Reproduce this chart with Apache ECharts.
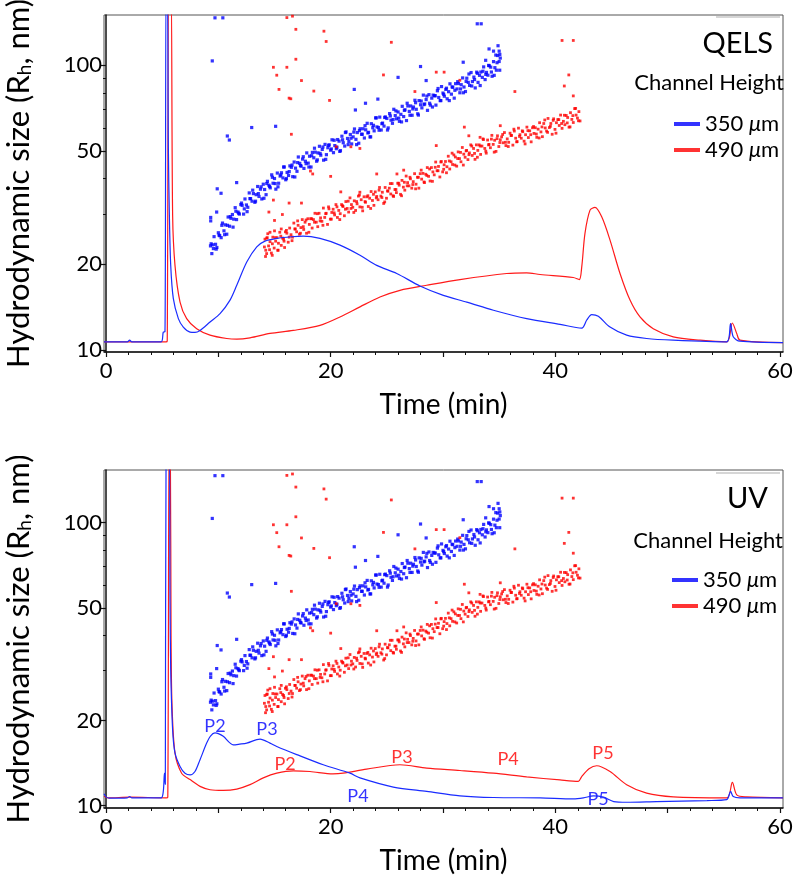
<!DOCTYPE html>
<html>
<head>
<meta charset="utf-8">
<script src="https://cdn.jsdelivr.net/npm/echarts@6/dist/echarts.min.js"></script>
<style>
html,body{margin:0;padding:0;background:#fff;}
#chart{width:800px;height:883px;}
</style>
</head>
<body>
<div id="chart"></div>
<script>
// ---------- DATA ----------
// Hydrodynamic size (nm) vs time (min), 350 um channel (blue)
const blueBand = [[9.3,23.2],[9.42,21.8],[9.5,23.4],[9.62,25.0],[9.75,23.5],[9.87,22.9],[10.0,25.8],[10.12,25.2],[10.25,24.8],[10.37,27.9],[10.5,26.2],[10.62,27.5],[10.75,25.5],[10.87,29.3],[11.0,27.2],[11.12,29.0],[11.25,29.9],[11.37,28.8],[11.5,31.6],[11.62,28.7],[11.75,30.5],[11.87,30.0],[12.0,32.4],[12.12,32.2],[12.25,30.0],[12.37,33.9],[12.5,32.3],[12.62,31.7],[12.75,35.6],[12.87,34.0],[13.0,33.3],[13.12,35.4],[13.25,33.0],[13.37,35.1],[13.5,37.5],[13.62,34.6],[13.75,36.7],[13.87,33.9],[14.0,38.2],[14.12,36.6],[14.25,35.1],[14.37,39.1],[14.5,37.9],[14.62,37.1],[14.75,41.2],[14.87,38.5],[15.0,40.0],[15.12,36.7],[15.25,41.8],[15.37,38.5],[15.5,40.8],[15.62,41.9],[15.75,40.2],[15.87,43.9],[16.0,39.6],[16.12,42.0],[16.25,41.0],[16.37,44.3],[16.5,43.8],[16.62,40.6],[16.75,45.7],[16.87,43.5],[17.0,42.4],[17.12,47.6],[17.25,45.2],[17.37,44.2],[17.5,46.8],[17.62,43.4],[17.75,46.0],[17.87,49.2],[18.0,45.3],[18.12,47.9],[18.25,43.9],[18.37,49.4],[18.5,47.3],[18.62,49.5],[18.75,46.0],[18.87,49.2],[19.0,51.9],[19.12,48.3],[19.25,50.6],[19.37,46.4],[19.5,52.7],[19.62,48.5],[19.75,51.3],[19.87,52.5],[20.0,50.3],[20.12,54.7],[20.25,49.3],[20.37,52.2],[20.5,50.9],[20.62,54.8],[20.75,54.1],[20.87,50.1],[21.0,56.3],[21.12,53.4],[21.25,52.0],[21.37,58.3],[21.5,55.3],[21.62,54.0],[21.75,57.1],[21.87,52.9],[22.0,56.0],[22.12,59.7],[22.25,54.9],[22.37,58.0],[22.5,53.2],[22.62,59.8],[22.75,57.2],[22.87,59.8],[23.0,55.5],[23.12,59.3],[23.25,62.5],[23.37,58.1],[23.5,56.0],[23.62,62.3],[23.75,60.3],[23.87,58.8],[24.0,65.3],[24.12,60.7],[24.25,60.4],[24.37,65.7],[24.5,59.2],[24.62,62.6],[24.75,61.1],[24.87,65.8],[25.0,65.0],[25.12,60.2],[25.25,67.6],[25.37,64.1],[25.5,62.5],[25.62,70.0],[25.75,66.5],[25.87,64.8],[26.0,68.5],[26.12,63.5],[26.25,67.2],[26.37,71.7],[26.5,66.0],[26.62,69.7],[26.75,63.9],[26.87,71.9],[27.0,68.8],[27.12,71.9],[27.25,66.7],[27.37,71.3],[27.5,75.3],[27.62,70.0],[27.75,67.5],[27.87,75.1],[28.0,72.6],[28.12,70.8],[28.25,78.5],[28.37,73.1],[28.5,75.7],[28.62,69.4],[28.75,78.8],[28.87,72.4],[29.0,76.6],[29.12,78.5],[29.25,78.1],[29.37,72.4],[29.5,81.3],[29.62,77.0],[29.75,75.1],[29.87,84.1],[30.0,79.8],[30.12,77.8],[30.25,82.2],[30.37,76.2],[30.5,80.7],[30.62,86.0],[30.75,79.1],[30.87,83.6],[31.0,76.6],[31.12,86.1],[31.25,82.5],[31.37,86.2],[31.5,80.0],[31.62,85.4],[31.75,90.2],[31.87,83.8],[32.0,80.8],[32.12,90.0],[32.25,87.0],[32.37,84.9],[32.5,94.2],[32.62,87.6],[32.75,90.8],[32.87,83.2],[33.0,94.5],[33.12,87.0],[33.25,92.1],[33.37,94.6],[33.5,90.6],[33.62,98.6],[33.75,89.0],[33.87,94.3],[34.0,92.2],[34.12,99.5],[34.25,98.4],[34.37,91.4],[34.5,102.9],[34.62,98.0],[34.75,96.0],[34.87,108.1],[35.0,103.0],[35.1,105.9]];
const blueBand2 = [[9.36,23.6],[9.56,22.7],[9.81,22.6],[10.06,25.3],[10.31,27.4],[10.56,25.4],[10.81,27.4],[11.06,29.4],[11.31,27.0],[11.56,30.7],[11.81,30.2],[12.06,32.8],[12.31,31.3],[12.56,30.6],[12.81,34.0],[13.06,36.4],[13.31,33.3],[13.56,35.4],[13.81,37.4],[14.06,34.1],[14.31,38.4],[14.56,37.5],[14.81,40.4],[15.06,38.4],[15.31,37.4],[15.56,41.2],[15.81,43.9],[16.06,40.0],[16.31,42.3],[16.56,44.6],[16.81,40.5],[17.06,45.5],[17.31,44.4],[17.56,47.7],[17.81,45.1],[18.06,43.9],[18.31,48.1],[18.56,51.1],[18.81,46.5],[19.06,49.0],[19.31,51.6],[19.56,46.7],[19.81,52.3],[20.06,50.8],[20.31,54.5],[20.56,51.5],[20.81,49.8],[21.06,54.7],[21.31,58.0],[21.56,52.6],[21.81,55.4],[22.06,58.2],[22.31,52.6],[22.56,58.9],[22.81,57.2],[23.06,61.3],[23.31,57.8],[23.56,56.0],[23.81,61.5],[24.06,65.3],[24.31,59.1],[24.56,62.3],[24.81,65.5],[25.06,59.2],[25.31,66.3],[25.56,64.4],[25.81,69.1],[26.06,65.2],[26.31,63.2],[26.56,69.4],[26.81,73.5],[27.06,66.7],[27.31,70.2],[27.56,73.8],[27.81,66.8],[28.06,74.8],[28.31,72.7],[28.56,77.9],[28.81,73.5],[29.06,71.3],[29.31,78.1],[29.56,82.8],[29.81,75.1],[30.06,79.0],[30.31,83.0],[30.56,75.1],[30.81,83.9],[31.06,81.6],[31.31,87.5],[31.56,82.5],[31.81,80.0],[32.06,87.7],[32.31,93.1],[32.56,84.5],[32.81,89.0],[33.06,93.6],[33.31,84.8],[33.56,95.2],[33.81,92.8],[34.06,99.8],[34.31,94.6],[34.56,92.1],[34.81,102.0],[35.06,109.1]];
const blueOutliers = [[9.7,146.6],[10.4,146.6],[9.46,103.5],[10.8,56.4],[10.98,54.6],[9.9,36.8],[10.24,35.5],[9.85,30.5],[9.32,29.2],[9.32,28.4],[11.63,38.7],[12.97,60.4],[15.1,61.0],[22.1,82.2],[22.2,69.6],[24.2,76.0],[23.1,73.5],[26.0,90.6],[33.05,139.7],[33.4,139.7],[28.0,98.9],[31.8,102.4],[28.5,88.3],[34.1,114.0],[34.5,112.0],[34.9,117.0],[35.0,112.0],[34.7,108.5],[33.8,104.0],[35.05,96.0]];
// 490 um channel (red)
const redBand = [[14.1,23.0],[14.22,22.4],[14.35,24.8],[14.47,23.2],[14.6,24.0],[14.72,21.9],[14.85,24.9],[14.97,22.8],[15.1,24.1],[15.22,24.8],[15.35,23.7],[15.47,25.9],[15.6,23.3],[15.72,24.7],[15.85,24.1],[15.97,26.0],[16.1,25.7],[16.22,23.9],[16.35,26.8],[16.47,25.4],[16.6,24.9],[16.72,27.9],[16.85,26.6],[16.97,26.0],[17.1,27.4],[17.22,25.5],[17.35,26.9],[17.47,28.7],[17.6,26.5],[17.72,28.1],[17.85,25.7],[17.97,28.9],[18.1,27.6],[18.22,28.9],[18.35,26.8],[18.47,28.7],[18.6,30.2],[18.72,28.1],[18.85,27.1],[18.97,30.2],[19.1,29.1],[19.22,28.3],[19.35,31.5],[19.47,29.2],[19.6,30.2],[19.72,27.6],[19.85,31.3],[19.97,28.8],[20.1,30.4],[20.22,31.2],[20.35,29.8],[20.47,32.4],[20.6,29.2],[20.72,30.9],[20.85,30.1],[20.97,32.4],[21.1,31.9],[21.22,29.6],[21.35,33.2],[21.47,31.4],[21.6,30.5],[21.72,34.2],[21.85,32.4],[21.97,31.7],[22.1,33.4],[22.22,30.9],[22.35,32.6],[22.47,34.7],[22.6,31.8],[22.72,33.7],[22.85,30.8],[22.97,34.5],[23.1,33.0],[23.22,34.5],[23.35,31.9],[23.47,34.1],[23.6,36.0],[23.72,33.5],[23.85,32.2],[23.97,35.9],[24.1,34.6],[24.22,33.7],[24.35,37.2],[24.47,34.7],[24.6,35.8],[24.72,32.7],[24.85,37.2],[24.97,34.1],[25.1,36.1],[25.22,37.0],[25.35,35.3],[25.47,38.4],[25.6,34.6],[25.72,36.6],[25.85,35.7],[25.97,38.5],[26.1,37.9],[26.22,35.2],[26.35,39.4],[26.47,37.3],[26.6,36.4],[26.72,40.8],[26.85,38.7],[26.97,37.7],[27.1,39.9],[27.22,37.0],[27.35,39.0],[27.47,41.6],[27.6,38.2],[27.72,40.4],[27.85,37.0],[27.97,41.6],[28.1,39.8],[28.22,41.7],[28.35,38.7],[28.47,41.4],[28.6,43.7],[28.72,40.7],[28.85,39.2],[28.97,43.7],[29.1,42.2],[29.22,41.2],[29.35,45.7],[29.47,42.6],[29.6,44.1],[29.72,40.5],[29.85,45.9],[29.97,42.2],[30.1,44.7],[30.22,45.9],[30.35,44.0],[30.47,47.9],[30.6,43.2],[30.72,45.8],[30.85,44.8],[30.97,48.4],[31.1,47.6],[31.22,44.2],[31.35,49.6],[31.47,47.0],[31.6,45.8],[31.72,51.4],[31.85,48.7],[31.97,47.5],[32.1,50.2],[32.22,46.6],[32.35,49.2],[32.47,52.5],[32.6,48.2],[32.72,51.0],[32.85,46.7],[32.97,52.5],[33.1,50.2],[33.22,52.5],[33.35,48.6],[33.47,52.0],[33.6,54.8],[33.72,51.0],[33.85,49.1],[33.97,54.6],[34.1,52.7],[34.22,51.3],[34.35,56.7],[34.47,52.7],[34.6,54.5],[34.72,49.8],[34.85,56.5],[34.97,51.8],[35.1,54.7],[35.22,56.0],[35.35,53.4],[35.47,58.0],[35.6,52.2],[35.72,55.1],[35.85,53.6],[35.97,57.7],[36.1,56.7],[36.22,52.4],[36.35,58.7],[36.47,55.4],[36.6,53.9],[36.72,60.1],[36.85,57.0],[36.97,55.4],[37.1,58.4],[37.22,54.1],[37.35,57.0],[37.47,60.6],[37.6,55.7],[37.72,58.8],[37.85,53.8],[37.97,60.3],[38.1,57.6],[38.22,60.3],[38.35,55.8],[38.47,59.6],[38.6,62.8],[38.72,58.3],[38.85,56.1],[38.97,62.4],[39.1,60.2],[39.22,58.7],[39.35,65.0],[39.47,60.4],[39.6,62.4],[39.72,57.2],[39.85,64.8],[39.97,59.5],[40.1,62.8],[40.22,64.4],[40.35,61.4],[40.47,66.8],[40.6,60.0],[40.72,63.5],[40.85,61.8],[40.97,66.6],[41.1,65.5],[41.22,60.6],[41.35,68.1],[41.47,64.5],[41.6,62.9],[41.72,70.4],[41.85,66.8],[41.97,65.2],[42.1,68.7],[42.2,63.7],[14.2,21.3],[14.4,25.6],[14.3,21.8],[14.6,25.9],[14.8,21.5],[15.0,26.2],[15.3,22.4],[14.15,24.5],[15.6,26.6],[15.9,22.9]];
const redBand2 = [[14.31,24.7],[14.56,22.5],[14.81,23.6],[15.06,24.8],[15.31,22.4],[15.56,25.1],[15.81,24.5],[16.06,26.3],[16.31,24.9],[16.56,24.2],[16.81,26.6],[17.06,28.4],[17.31,25.7],[17.56,27.1],[17.81,28.6],[18.06,25.9],[18.31,28.9],[18.56,28.1],[18.81,30.1],[19.06,28.4],[19.31,27.4],[19.56,30.1],[19.81,31.8],[20.06,28.8],[20.31,30.3],[20.56,31.8],[20.81,28.7],[21.06,32.1],[21.31,31.2],[21.56,33.3],[21.81,31.4],[22.06,30.4],[22.31,33.2],[22.56,35.0],[22.81,31.7],[23.06,33.2],[23.31,34.8],[23.56,31.4],[23.81,35.2],[24.06,34.2],[24.31,36.4],[24.56,34.3],[24.81,33.1],[25.06,36.2],[25.31,38.4],[25.56,34.8],[25.81,36.6],[26.06,38.5],[26.31,34.8],[26.56,38.8],[26.81,37.7],[27.06,40.4],[27.31,38.1],[27.56,36.8],[27.81,40.4],[28.06,42.8],[28.31,38.9],[28.56,41.0],[28.81,43.2],[29.06,39.1],[29.31,43.8],[29.56,42.6],[29.81,45.7],[30.06,43.1],[30.31,41.9],[30.56,46.1],[30.81,49.1],[31.06,44.6],[31.31,47.0],[31.56,49.4],[31.81,44.6],[32.06,50.0],[32.31,48.5],[32.56,52.0],[32.81,49.0],[33.06,47.5],[33.31,52.0],[33.56,55.1],[33.81,49.9],[34.06,52.5],[34.31,55.0],[34.56,49.5],[34.81,55.2],[35.06,53.5],[35.31,57.1],[35.56,53.6],[35.81,51.8],[36.06,56.6],[36.31,59.6],[36.56,53.8],[36.81,56.2],[37.06,58.8],[37.31,52.9],[37.56,58.9],[37.81,57.0],[38.06,60.9],[38.31,57.3],[38.56,55.5],[38.81,60.7],[39.06,64.2],[39.31,58.1],[39.56,61.0],[39.81,64.0],[40.06,57.7],[40.31,64.4],[40.56,62.4],[40.81,66.7],[41.06,62.7],[41.31,60.7],[41.56,66.5],[41.81,70.5],[42.06,63.8]];
const redOutliers = [[16.1,146.9],[16.6,148.6],[16.9,133.6],[19.4,131.6],[19.6,121.1],[16.9,104.9],[14.9,98.3],[16.1,98.3],[15.2,92.2],[17.4,88.3],[15.4,82.2],[18.5,81.1],[16.3,76.6],[16.45,76.2],[19.9,75.2],[24.7,92.4],[25.4,120.3],[16.5,57.2],[20.5,51.7],[21.8,51.7],[22.6,51.0],[18.2,42.5],[18.4,41.5],[20.0,40.7],[20.9,35.9],[22.6,35.8],[24.1,41.5],[25.9,41.5],[14.9,33.6],[16.3,32.8],[17.4,32.8],[15.7,29.9],[14.5,30.5],[15.0,28.5],[30.1,94.5],[29.4,94.5],[27.5,80.8],[31.5,88.5],[36.4,80.8],[40.6,122.1],[41.6,122.1],[41.2,92.4],[40.8,84.5],[41.6,78.0],[31.9,60.6],[32.3,56.5],[35.1,61.3],[33.3,55.8],[29.4,52.2],[26.5,42.8]];

// Detector traces (% of panel height, arbitrary signal units)
const qelsBlue = [[-0.18,3.0],[1.9,3.0],[2.1,3.5],[2.3,3.0],[4.9,3.0],[5.1,5.9],[5.25,6.0],[5.35,110],[5.45,110],[5.55,60.4],[5.64,40.6],[5.76,25.7],[5.99,15.9],[6.44,9.9],[6.88,7.4],[7.48,5.9],[7.92,5.8],[8.37,6.4],[9.26,8.9],[10.15,11.4],[11.04,15.4],[11.64,19.8],[12.53,26.7],[13.42,31.2],[14.15,32.9],[15.2,33.7],[16.5,34.2],[17.56,34.4],[19.05,33.7],[20.83,31.7],[22.61,28.7],[24.1,25.7],[25.88,23.3],[27.95,19.6],[30.03,16.8],[32.12,14.8],[34.49,12.4],[37.45,9.9],[40.42,8.2],[42.35,7.1],[42.8,9.5],[43.24,11.1],[43.83,10.6],[44.87,7.4],[46.35,5.0],[48.13,4.0],[50.5,3.5],[55.26,3.0],[55.6,8.4],[55.84,4.5],[56.44,3.2],[60.27,2.8]];
const qelsRed = [[-0.18,3.0],[5.35,3.0],[5.45,3.3],[5.6,110],[5.78,110],[5.93,40.6],[6.14,25.7],[6.59,14.8],[7.18,9.9],[8.07,6.9],[9.26,5.0],[10.75,4.0],[11.64,3.8],[12.82,4.2],[14.6,5.5],[16.67,6.4],[19.05,7.9],[20.83,10.4],[22.61,13.4],[24.39,16.3],[26.17,18.3],[28.55,19.8],[31.51,21.5],[35.67,23.3],[37.45,23.5],[38.64,23.0],[41.6,22.1],[42.13,21.5],[42.35,25.2],[42.64,35.2],[43.09,42.1],[43.53,42.9],[44.13,40.1],[44.87,33.2],[45.76,23.3],[46.65,15.4],[47.54,10.4],[48.72,6.9],[50.5,4.5],[52.9,3.5],[55.26,3.0],[55.76,8.6],[56.15,5.5],[56.44,3.5],[60.27,2.8]];
const uvBlue = [[-0.18,4.2],[0.0,3.3],[0.3,2.9],[1.9,3.0],[2.1,3.4],[2.3,3.0],[4.9,3.0],[5.1,5.0],[5.2,10.3],[5.28,7.0],[5.35,110],[5.6,110],[5.7,60.6],[5.76,40.9],[5.93,23.1],[6.14,16.3],[6.59,12.3],[7.03,10.3],[7.48,9.8],[7.92,10.8],[8.37,14.3],[8.96,19.2],[9.3,21.3],[9.7,22.2],[10.0,22.0],[10.44,21.2],[11.33,18.7],[11.9,18.9],[12.53,19.2],[13.71,20.4],[14.6,19.2],[15.2,18.2],[16.98,15.8],[19.34,12.8],[21.72,10.3],[22.61,8.9],[25.58,6.2],[28.55,4.9],[31.51,3.6],[34.49,3.1],[38.64,3.0],[41.6,2.7],[42.5,3.0],[43.4,3.6],[44.3,3.2],[45.2,1.9],[46.35,1.7],[49.0,1.9],[53.5,2.2],[55.26,2.5],[55.6,4.9],[55.84,3.4],[56.44,3.0],[60.27,3.0]];
const uvRed = [[-0.18,3.5],[0.2,3.0],[2.1,3.2],[5.35,3.0],[5.5,3.2],[5.62,110],[5.72,110],[5.79,50.7],[5.87,31.0],[6.14,16.3],[6.73,10.3],[7.48,8.4],[8.37,6.4],[9.26,5.4],[10.44,5.2],[11.64,5.6],[12.82,6.9],[14.0,8.9],[15.2,10.3],[16.67,11.0],[18.16,10.8],[20.2,10.1],[21.1,10.3],[23.2,11.5],[26.17,12.8],[28.55,11.8],[31.51,11.1],[34.49,10.3],[37.45,9.2],[40.42,8.3],[42.05,7.9],[42.35,9.3],[43.0,11.6],[43.68,12.5],[44.87,10.8],[46.35,6.9],[48.13,4.4],[50.5,3.3],[55.26,3.0],[55.76,7.6],[56.15,3.9],[57.0,3.3],[60.27,3.0]];
// Peak annotations (UV panel): [time, signal, text]
const peaksBlue = [[9.7,24.3,'P2'],[14.33,23.4,'P3'],[22.43,3.6,'P4'],[43.8,2.5,'P5']];
const peaksRed = [[15.94,13.1,'P2'],[26.35,14.9,'P3'],[35.79,14.3,'P4'],[44.24,16.3,'P5']];

// Axis ticks
const xLabels = [0, 20, 40, 60];
const xMajorTicks = [0, 10, 20, 30, 40, 50, 60];
const xMinorTicks = [2,4,6,8,12,14,16,18,22,24,26,28,32,34,36,38,42,44,46,48,52,54,56,58];
const yLabels = [10, 20, 50, 100];
const yMinorTicks = [30, 40, 60, 70, 80, 90];
const seriesNames = ['350 \u03bcm', '490 \u03bcm'];
const panelTitles = ['QELS', 'UV'];

// ---------- STYLE ----------
const BLUE = '#0000ff', RED = '#ff0000';
const LBLUE = '#1a2cff', LRED = '#ff1a1a';
const FONT = 'Lato';
const chart = echarts.init(document.getElementById('chart'), null, {renderer: 'canvas'});

const grids = [
  {left: 104, top: 15, width: 679, height: 337},
  {left: 104, top: 470, width: 679, height: 338}
].map(g => Object.assign(g, {show: true, borderColor: '#555', borderWidth: 1, backgroundColor: 'transparent',
  containLabel: false, outerBoundsMode: 'none'}));

const xMin = -0.18, xMax = 60.27;
const yRanges = [[9.84, 150], [9.81, 153.5]];

const xAxis = [], yAxis = [];
[0, 1].forEach(gi => {
  xAxis.push({
    type: 'value', gridIndex: gi, min: xMin, max: xMax, position: 'bottom',
    name: 'Time (min)', nameLocation: 'middle', nameGap: 39,
    nameTextStyle: {fontFamily: FONT, fontSize: 28, color: '#000'},
    axisLine: {show: true, onZero: false, lineStyle: {color: '#111', width: 1.5}},
    axisTick: {show: true, length: 5, customValues: xMajorTicks, lineStyle: {color: '#111', width: 1.2}},
    axisLabel: {customValues: xLabels, fontFamily: FONT, fontSize: 22, color: '#000', margin: 8},
    splitLine: {show: false}
  });
  xAxis.push({
    type: 'value', gridIndex: gi, min: xMin, max: xMax, position: 'bottom',
    axisLine: {show: false},
    axisTick: {show: true, length: 3, customValues: xMinorTicks, lineStyle: {color: '#111', width: 1}},
    axisLabel: {show: false}, splitLine: {show: false}
  });
  const [ymin, ymax] = yRanges[gi];
  yAxis.push({
    type: 'log', gridIndex: gi, min: ymin, max: ymax, logBase: 10, position: 'left',
    name: 'Hydrodynamic size (R{sub|h}, nm)', nameLocation: 'middle', nameRotate: 90, nameGap: 70,
    nameTextStyle: {fontFamily: FONT, fontSize: 31, color: '#000',
      rich: {sub: {fontFamily: FONT, fontSize: 19, color: '#000', verticalAlign: 'bottom', lineHeight: 20}}},
    axisLine: {show: true, lineStyle: {color: '#111', width: 1.5}},
    axisTick: {show: true, length: 5, customValues: yLabels, lineStyle: {color: '#111', width: 1.2}},
    axisLabel: {customValues: yLabels, fontFamily: FONT, fontSize: 22, color: '#000', margin: 2},
    splitLine: {show: false}
  });
  yAxis.push({
    type: 'log', gridIndex: gi, min: ymin, max: ymax, logBase: 10, position: 'left',
    axisLine: {show: false},
    axisTick: {show: true, length: 3, customValues: yMinorTicks, lineStyle: {color: '#111', width: 1}},
    axisLabel: {show: false}, splitLine: {show: false}
  });
  yAxis.push({type: 'value', gridIndex: gi, min: 0, max: 100, show: false});
});

const series = [];
[0, 1].forEach(gi => {
  const xi = gi * 2, yi = gi * 3;
  series.push({
    name: seriesNames[0], type: 'scatter', xAxisIndex: xi, yAxisIndex: yi,
    data: blueBand.concat(blueBand2, blueOutliers), symbol: 'rect', symbolSize: 3.2,
    itemStyle: {color: BLUE}, silent: true
  });
  series.push({
    name: seriesNames[1], type: 'scatter', xAxisIndex: xi, yAxisIndex: yi,
    data: redBand.concat(redBand2, redOutliers), symbol: 'rect', symbolSize: 2.8,
    itemStyle: {color: RED}, silent: true
  });
  const traces = gi === 0 ? [qelsBlue, qelsRed] : [uvBlue, uvRed];
  series.push({
    name: seriesNames[1], type: 'line', xAxisIndex: xi, yAxisIndex: yi + 2,
    data: traces[1], showSymbol: false, symbol: 'none', clip: true, smooth: 0.3,
    lineStyle: {color: LRED, width: 1.2}, itemStyle: {color: RED}
  });
  series.push({
    name: seriesNames[0], type: 'line', xAxisIndex: xi, yAxisIndex: yi + 2,
    data: traces[0], showSymbol: false, symbol: 'none', clip: true, smooth: 0.3,
    lineStyle: {color: LBLUE, width: 1.2}, itemStyle: {color: BLUE}
  });
});
[[peaksBlue, BLUE], [peaksRed, RED]].forEach(([arr, col]) => {
  series.push({
    type: 'scatter', xAxisIndex: 2, yAxisIndex: 5, symbolSize: 1, silent: true,
    itemStyle: {color: 'rgba(0,0,0,0)'},
    data: arr.map(p => ({value: [p[0], p[1]], name: p[2]})),
    label: {show: true, position: 'inside', formatter: '{b}', color: col, fontFamily: FONT, fontSize: 18}
  });
});

const legendCommon = {
  data: seriesNames, orient: 'vertical', icon: 'rect', itemWidth: 26, itemHeight: 4, itemGap: 4,
  itemStyle: {borderWidth: 0},
  formatter: n => n.replace('\u03bc', '{i|\u03bc}'),
  textStyle: {fontFamily: FONT, fontSize: 22, color: '#000', lineHeight: 22, padding: [0, 0, 0, 0],
    rich: {i: {fontStyle: 'italic', fontFamily: FONT, fontSize: 22, color: '#000'}}},
  selectedMode: false, padding: 0
};

const option = {
  animation: false,
  backgroundColor: '#fff',
  grid: grids,
  xAxis, yAxis, series,
  legend: [
    Object.assign({left: 674, top: 113}, legendCommon),
    Object.assign({left: 672, top: 569}, legendCommon)
  ],
  graphic: [
    {type: 'text', x: 773, y: 44, style: {text: panelTitles[0], font: '29px Lato', fill: '#000', textAlign: 'right', textVerticalAlign: 'middle'}},
    {type: 'text', x: 784, y: 83, style: {text: 'Channel Height', font: '22px Lato', fill: '#000', textAlign: 'right', textVerticalAlign: 'middle'}},
    {type: 'text', x: 768, y: 499, style: {text: panelTitles[1], font: '29px Lato', fill: '#000', textAlign: 'right', textVerticalAlign: 'middle'}},
    {type: 'text', x: 783, y: 541, style: {text: 'Channel Height', font: '22px Lato', fill: '#000', textAlign: 'right', textVerticalAlign: 'middle'}},
    {type: 'line', shape: {x1: 716, y1: 17, x2: 780, y2: 17}, style: {stroke: '#c8c8c8', lineWidth: 1.5}},
    {type: 'line', shape: {x1: 716, y1: 473, x2: 780, y2: 473}, style: {stroke: '#c8c8c8', lineWidth: 1.5}}
  ]
};
chart.setOption(option);
</script>
</body>
</html>
